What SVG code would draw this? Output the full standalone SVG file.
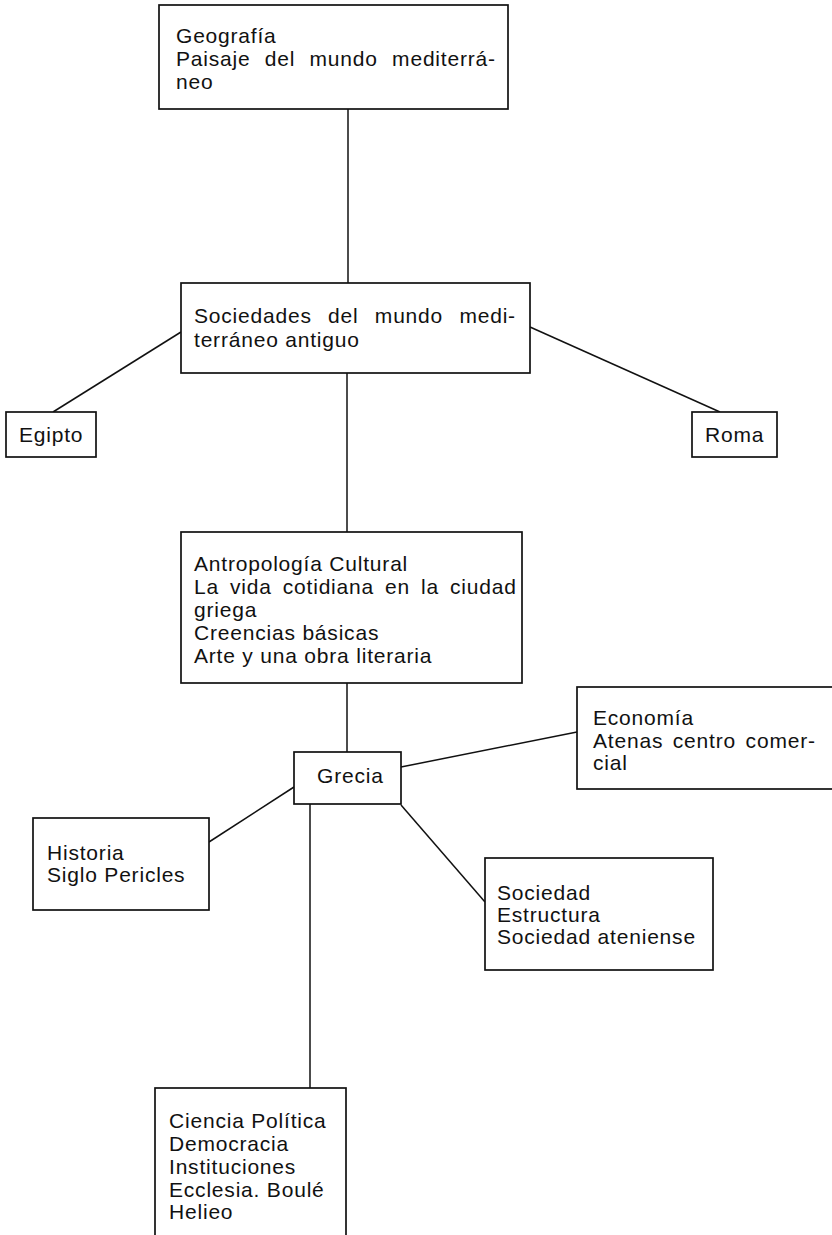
<svg xmlns="http://www.w3.org/2000/svg" width="832" height="1235" viewBox="0 0 832 1235">
<style>
  .box { fill: #ffffff; stroke: #111111; stroke-width: 1.7; }
  .edge { fill: none; stroke: #111111; stroke-width: 1.5; }
  .t { font-family: "Liberation Sans", Arial, sans-serif; font-size: 21px; letter-spacing: 0.8px; fill: #111111; }
</style>
<rect x="0" y="0" width="832" height="1235" fill="#ffffff"/>
<g id="connectors">
  <line class="edge" x1="348" y1="109" x2="348" y2="283"/>
  <line class="edge" x1="181" y1="332" x2="53" y2="412"/>
  <line class="edge" x1="530" y1="327" x2="720" y2="412"/>
  <line class="edge" x1="347" y1="373" x2="347" y2="532"/>
  <line class="edge" x1="347" y1="683" x2="347" y2="752"/>
  <line class="edge" x1="401" y1="767" x2="577" y2="732"/>
  <line class="edge" x1="294" y1="787" x2="209" y2="842"/>
  <line class="edge" x1="401" y1="805" x2="485" y2="902"/>
  <line class="edge" x1="310" y1="804" x2="310" y2="1088"/>
</g>
<g id="geografia">
  <rect class="box" x="159" y="5" width="349" height="104"/>
  <text class="t" x="176" y="43">Geografía</text>
  <text class="t" x="176" y="66" word-spacing="7.7">Paisaje del mundo mediterrá-</text>
  <text class="t" x="176" y="89">neo</text>
</g>
<g id="sociedades">
  <rect class="box" x="181" y="283" width="349" height="90"/>
  <text class="t" x="194" y="323" word-spacing="9.7">Sociedades del mundo medi-</text>
  <text class="t" x="194" y="347">terráneo antiguo</text>
</g>
<g id="egipto">
  <rect class="box" x="6" y="412" width="90" height="45"/>
  <text class="t" x="19" y="442">Egipto</text>
</g>
<g id="roma">
  <rect class="box" x="692" y="412" width="85" height="45"/>
  <text class="t" x="705" y="442">Roma</text>
</g>
<g id="antropologia">
  <rect class="box" x="181" y="532" width="341" height="151"/>
  <text class="t" x="194" y="571">Antropología Cultural</text>
  <text class="t" x="194" y="594" word-spacing="4.4">La vida cotidiana en la ciudad</text>
  <text class="t" x="194" y="617">griega</text>
  <text class="t" x="194" y="640">Creencias básicas</text>
  <text class="t" x="194" y="663">Arte y una obra literaria</text>
</g>
<g id="grecia">
  <rect class="box" x="294" y="752" width="107" height="52"/>
  <text class="t" x="317" y="783">Grecia</text>
</g>
<g id="economia">
  <rect class="box" x="577" y="687" width="270" height="102"/>
  <text class="t" x="593" y="725">Economía</text>
  <text class="t" x="593" y="748" word-spacing="3">Atenas centro comer-</text>
  <text class="t" x="593" y="770">cial</text>
</g>
<g id="historia">
  <rect class="box" x="33" y="818" width="176" height="92"/>
  <text class="t" x="47" y="860">Historia</text>
  <text class="t" x="47" y="882">Siglo Pericles</text>
</g>
<g id="sociedad">
  <rect class="box" x="485" y="858" width="228" height="112"/>
  <text class="t" x="497" y="900">Sociedad</text>
  <text class="t" x="497" y="922">Estructura</text>
  <text class="t" x="497" y="944">Sociedad ateniense</text>
</g>
<g id="ciencia">
  <rect class="box" x="155" y="1088" width="191" height="160"/>
  <text class="t" x="169" y="1128">Ciencia Política</text>
  <text class="t" x="169" y="1151">Democracia</text>
  <text class="t" x="169" y="1174">Instituciones</text>
  <text class="t" x="169" y="1197">Ecclesia. Boulé</text>
  <text class="t" x="169" y="1219">Helieo</text>
</g>
</svg>
